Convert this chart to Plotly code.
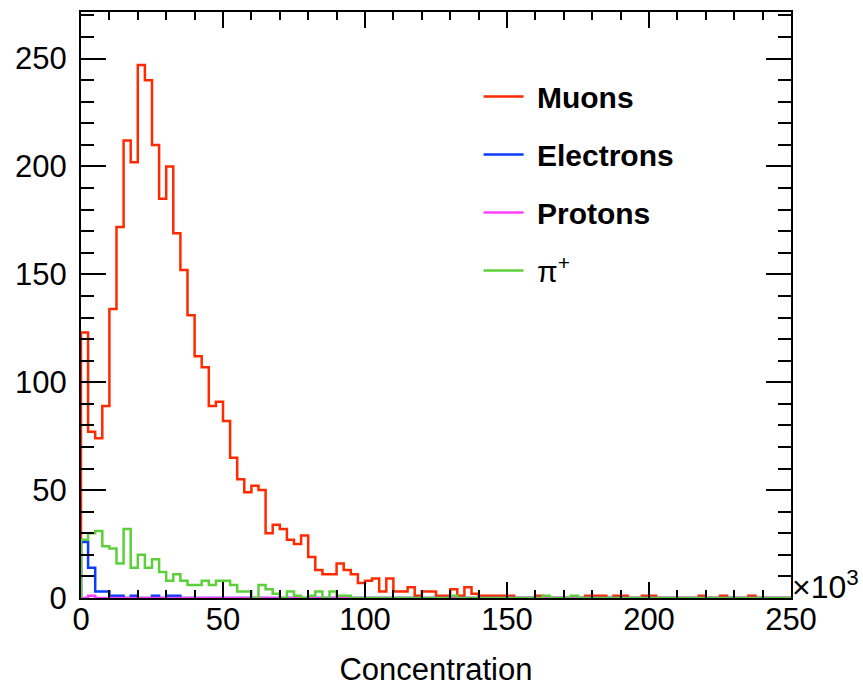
import numpy as np
import plotly.graph_objects as go

# Histogram binning (x in units of 10^3)
bin_width = 2.5
n_bins = 100

muons = [123, 77, 74, 89, 134, 172, 212, 202, 247, 240,
         210, 185, 200, 169, 152, 131, 112, 107, 89, 91,
         82, 65, 55, 49, 52, 50, 30, 34, 32, 27,
         25, 29, 19, 13, 11, 11, 16, 13, 11, 7,
         8, 9, 3, 9, 3, 3, 5, 1, 3, 3,
         1, 1, 4, 1, 5, 2, 1, 1, 1, 1,
         1, 0, 0, 0, 1, 0, 0, 0, 0, 0,
         0, 1, 1, 1, 0, 1, 1, 0, 0, 1,
         1, 0, 0, 0, 0, 0, 0, 1, 0, 0,
         1, 0, 0, 0, 1, 0, 0, 0, 0, 0]

electrons = [26, 14, 3, 3, 1, 1, 0, 1, 0, 0,
             1, 0, 1, 1, 0, 0, 0, 0, 0, 0] + [0] * 80

protons = [0, 1] + [0] * 98

pions = [27, 30, 31, 24, 23, 16, 32, 14, 20, 14,
         18, 12, 8, 11, 8, 6, 6, 8, 6, 8,
         8, 6, 3, 3, 0, 6, 4, 2, 0, 3,
         1, 0, 1, 3, 0, 3, 1, 1, 0, 0,
         0, 0, 0, 0, 0, 0, 0, 0, 0, 0,
         0, 0, 1, 0, 0, 0, 0, 0, 0, 0,
         0, 0, 0, 0, 0, 1, 0, 0, 0, 1,
         0, 0, 0, 0, 0, 0, 0, 0, 0, 0,
         0, 0, 0, 0, 0, 0, 0, 0, 0, 0,
         0, 0, 0, 0, 0, 0, 0, 0, 0, 0]

series_names = ["&nbsp;<b>Muons</b>", "&nbsp;<b>Electrons</b>", "&nbsp;<b>Protons</b>", "&nbsp;π<sup>+</sup>"]
series_values = [muons, electrons, protons, pions]
series_colors = ["#ff2a00", "#0a3cff", "#ff40ff", "#5cd03a"]

x_range = [0, 250]
y_range = [0, 271.6]
x_title = "Concentration"

edges = np.arange(n_bins + 1) * bin_width

fig = go.Figure()
for i, (name, vals, col) in enumerate(zip(series_names, series_values, series_colors)):
    xs = [edges[0]] + list(edges)
    ys = [0] + list(vals) + [vals[-1]]
    fig.add_trace(go.Scatter(
        x=xs, y=ys, mode="lines", line=dict(color=col, width=2.5, shape="hv"),
        name=name, legendgroup=f"g{i}", hoverinfo="skip"))

font_family = "Liberation Sans, Arial, Helvetica, sans-serif"

fig.update_layout(
    width=863, height=692, autosize=False,
    margin=dict(l=81, r=72, t=10, b=94),
    paper_bgcolor="white", plot_bgcolor="white",
    font=dict(family=font_family, size=31, color="black"),
    showlegend=True,
    legend=dict(x=0.56, y=0.90, xanchor="left", yanchor="top",
                bgcolor="rgba(0,0,0,0)", borderwidth=0,
                font=dict(family=font_family, size=30, color="black"),
                tracegroupgap=16, itemwidth=40),
    xaxis=dict(range=x_range, showgrid=False, zeroline=False,
               showline=True, linecolor="black", linewidth=2, mirror="ticks",
               ticks="inside", ticklen=16, tickwidth=1.5, tickcolor="black",
               tick0=0, dtick=50,
               minor=dict(ticks="inside", dtick=10, ticklen=8, tickwidth=1.5, tickcolor="black"),
               tickfont=dict(size=31), ticklabelstandoff=-7,
               title=dict(text=x_title, font=dict(size=31), standoff=22)),
    yaxis=dict(range=y_range, showgrid=False, zeroline=False,
               showline=True, linecolor="black", linewidth=2, mirror="ticks",
               ticks="inside", ticklen=25, tickwidth=1.5, tickcolor="black",
               tick0=0, dtick=50,
               minor=dict(ticks="inside", dtick=10, ticklen=13, tickwidth=1.5, tickcolor="black"),
               tickfont=dict(size=31), ticklabelstandoff=6),
    annotations=[dict(text="×10<sup>3</sup>", xref="paper", yref="paper",
                      x=1, y=0, xanchor="left", yanchor="bottom",
                      xshift=-1, yshift=-9, showarrow=False,
                      font=dict(family=font_family, size=32, color="black"))],
)

fig.write_html("out.html")
